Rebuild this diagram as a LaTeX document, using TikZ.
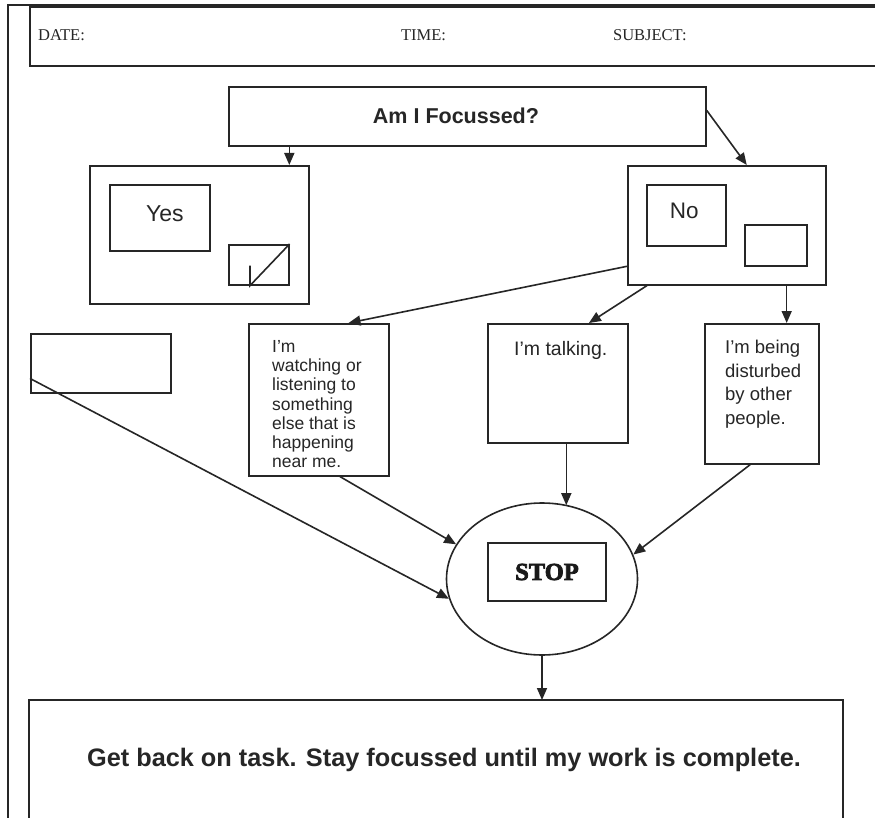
\documentclass[tikz,border=0pt]{standalone}
\usepackage{fontspec}
\setmainfont{Liberation Serif}
\setsansfont{Liberation Sans}
\newfontfamily\stopfont{Liberation Serif}[BoldFeatures={FakeBold=3}]
\usetikzlibrary{arrows.meta,shapes.geometric,calc}
\begin{document}
\begin{tikzpicture}[x=1pt,y=-1pt,
  line width=1.6pt, draw=black!85,
  box/.style={draw, rectangle, inner sep=0pt, anchor=north west},
  txt/.style={font=\sffamily\fontsize{17.5}{19.3}\selectfont, text=black!85},
  arr/.style={-{Triangle[length=12pt,width=10pt]}, line width=1.6pt},
  hdr/.style={font=\rmfamily\fontsize{16.5}{19}\selectfont, text=black!85, anchor=west}]
\useasboundingbox (0,0) rectangle (875,818);
\fill[white] (0,0) rectangle (875,818);
% outer frame and header
\draw[line width=1.9pt] (8,818) -- (8,5) -- (876,5);
\draw[line width=1.9pt] (876,7) -- (30,7) -- (30,66) -- (876,66);
\node[hdr] (date) at (34,35) {DATE:};
\node[hdr] (time) at (397,35) {TIME:};
\node[hdr] (subj) at (609,35) {SUBJECT:};
% question box
\node[box, minimum width=477pt, minimum height=59pt] (am) at (228,86) {};
\node[txt, font=\sffamily\bfseries\fontsize{21.5}{25}\selectfont] (amt) at (456,116) {Am I Focussed?};
% yes box
\node[box, minimum width=219pt, minimum height=138pt] (yo) at (89,165) {};
\node[box, minimum width=100pt, minimum height=66pt] (yi) at (109,184) {};
\node[txt, font=\sffamily\fontsize{23}{26}\selectfont] (yt) at ($(yi.center)+(5,-4)$) {Yes};
\node[box, minimum width=60pt, minimum height=40pt] (cb) at (228,244) {};
\draw ($(cb.south west)+(22,-20)$) -- ($(cb.south west)+(22,0)$) -- (cb.north east);
% no box
\node[box, minimum width=198pt, minimum height=119pt] (no) at (627,165) {};
\node[box, minimum width=79pt, minimum height=61pt] (ni) at (646,184) {};
\node[txt, font=\sffamily\fontsize{22.5}{26}\selectfont] (nt) at ($(ni.center)+(-2,-4)$) {No};
\node[box, minimum width=62pt, minimum height=41pt] (nb) at (744,224) {};
% left empty box
\node[box, minimum width=140pt, minimum height=59pt] (lb) at (30,333) {};
% reason boxes
\node[box, minimum width=140pt, minimum height=152pt] (w) at (248,323) {};
\node[txt, anchor=north west, align=left] (wt) at (268,336) {I'm\\watching or\\listening to\\something\\else that is\\happening\\near me.};
\node[box, minimum width=140pt, minimum height=119pt] (t) at (487,323) {};
\node[txt, anchor=north west, font=\sffamily\fontsize{19.5}{23}\selectfont] (tt) at (510,337) {I'm talking.};
\node[box, minimum width=114pt, minimum height=140pt] (d) at (704,323) {};
\node[txt, anchor=north west, align=left, font=\sffamily\fontsize{18.5}{23.5}\selectfont] (dt) at (721,336) {I'm being\\disturbed\\by other\\people.};
% stop ellipse
\node[draw, ellipse, minimum width=191pt, minimum height=152pt, inner sep=0pt] (st) at (542,579) {};
\node[draw, rectangle, minimum width=118pt, minimum height=58pt, inner sep=0pt] (sb) at (547,572) {};
\node[font=\stopfont\bfseries\fontsize{24.5}{28}\selectfont, text=black!90] (stt) at (sb.center) {STOP};
% bottom box
\draw (29,819) -- (29,700) -- (843,700) -- (843,819);
\coordinate (bt) at (541,700);
\node[txt, font=\sffamily\bfseries\fontsize{25.3}{29}\selectfont] (btx) at (444,760) {Get back on task. Stay focussed until my work is complete.};
% arrows
\coordinate (a1) at ($(yo.north west)!0.908!(yo.north east)$);
\draw[arr] (a1 |- am.south) -- (a1);
\coordinate (a2s) at ($(am.north east)!0.4!(am.south east)$);
\coordinate (a2e) at ($(no.north west)!0.6!(no.north east)$);
\draw[arr] (a2s) -- (a2e);
\coordinate (a3s) at ($(no.north west)!0.84!(no.south west)$);
\coordinate (a3e) at ($(w.north west)!0.71!(w.north east)$);
\draw[arr] (a3s) -- (a3e);
\coordinate (a4s) at ($(no.south west)!0.1!(no.south east)$);
\coordinate (a4e) at ($(t.north west)!0.72!(t.north east)$);
\draw[arr] (a4s) -- (a4e);
\coordinate (a5s) at ($(no.south west)!0.8!(no.south east)$);
\draw[arr] (a5s) -- (a5s |- d.north);
\coordinate (a6s) at ($(t.south west)!0.56!(t.south east)$);
\coordinate (a6e) at ($(a6s |- st.north)+(0,3)$);
\draw[arr] (a6s) -- (a6e);
\coordinate (a7s) at ($(w.south west)!0.65!(w.south east)$);
\draw[arr] (a7s) -- (st.158);
\coordinate (a8s) at ($(lb.north west)!0.75!(lb.south west)$);
\draw[arr] (a8s) -- (st.192);
\coordinate (a9s) at ($(d.south west)!0.4!(d.south east)$);
\draw[arr] (a9s) -- (st.15);
\draw[arr] (st.south) -- (st.south |- bt);
\end{tikzpicture}
\end{document}
